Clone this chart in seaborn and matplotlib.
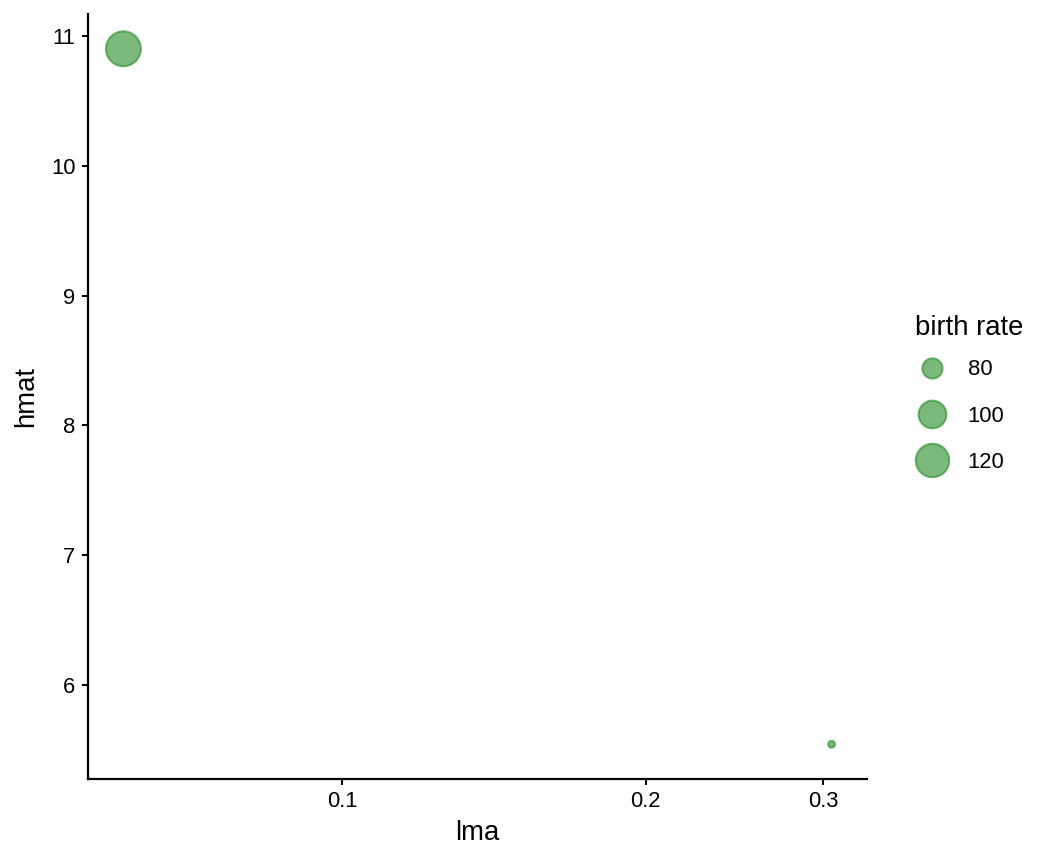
import numpy as np
import pandas as pd
import matplotlib
matplotlib.use("Agg")
import matplotlib.pyplot as plt
from matplotlib.lines import Line2D
import seaborn as sns

# data
lma = [0.0606, 0.306]
hmat = [10.90, 5.546]
birth_rate = [132, 62]

legend_breaks = [80, 100, 120]
x_ticks = [0.1, 0.2, 0.3]
y_ticks = [6, 7, 8, 9, 10, 11]

df = pd.DataFrame({"lma": lma, "hmat": hmat, "birth rate": birth_rate})

sns.set_theme(style="ticks")
plt.rcParams["font.family"] = ["Liberation Sans", "DejaVu Sans"]
plt.rcParams["text.color"] = "black"
plt.rcParams["axes.labelcolor"] = "black"

point_color = "forestgreen"
size_range = (12, 306)
size_norm = (min(birth_rate), max(birth_rate))

fig = plt.figure(figsize=(1056 / 144, 864 / 144), dpi=144)
ax = fig.add_axes([88 / 1056, 85 / 864, (867 - 88) / 1056, (779 - 14) / 864])

sns.scatterplot(
    data=df, x="lma", y="hmat", size="birth rate",
    sizes=size_range, size_norm=size_norm,
    color=point_color, alpha=0.6, edgecolor=point_color, linewidth=1,
    legend=False, ax=ax,
)

ax.set_xscale("log")
lx = np.log10(df["lma"])
pad = 0.05 * (lx.max() - lx.min())
ax.set_xlim(10 ** (lx.min() - pad), 10 ** (lx.max() + pad))
ypad = 0.05 * (df["hmat"].max() - df["hmat"].min())
ax.set_ylim(df["hmat"].min() - ypad, df["hmat"].max() + ypad)

ax.set_xticks(x_ticks)
ax.set_xticklabels([str(t) for t in x_ticks])
ax.xaxis.set_minor_locator(matplotlib.ticker.NullLocator())
ax.set_yticks(y_ticks)
ax.set_yticklabels([str(t) for t in y_ticks])

ax.tick_params(axis="both", labelsize=11, colors="black", length=3.2, width=1.0, pad=3)
ax.set_xlabel("lma", fontsize=13.75, labelpad=4)
ax.set_ylabel("hmat", fontsize=13.75, labelpad=6)
sns.despine(ax=ax)
for side in ["left", "bottom"]:
    ax.spines[side].set_linewidth(1.1)
    ax.spines[side].set_color("black")

# legend built from the same size mapping
handles = []
for b in legend_breaks:
    s = size_range[0] + (b - size_norm[0]) / (size_norm[1] - size_norm[0]) * (size_range[1] - size_range[0])
    handles.append(Line2D([], [], linestyle="", marker="o", markersize=np.sqrt(s) + 0.8,
                          markerfacecolor=point_color, markeredgecolor=point_color,
                          markeredgewidth=1, alpha=0.6, label=str(b)))
leg = ax.legend(handles=handles, title="birth rate", loc="center left",
                bbox_to_anchor=(1.036, 0.503), frameon=False, fontsize=11,
                title_fontsize=13.75, labelspacing=1.15, handletextpad=0.8,
                handlelength=1.6, borderaxespad=0.5)
leg._legend_box.align = "left"
leg._legend_box.sep = 9
leg.get_title().set_color("black")
for t in leg.get_texts():
    t.set_color("black")

fig.savefig("out.png", dpi=144)
